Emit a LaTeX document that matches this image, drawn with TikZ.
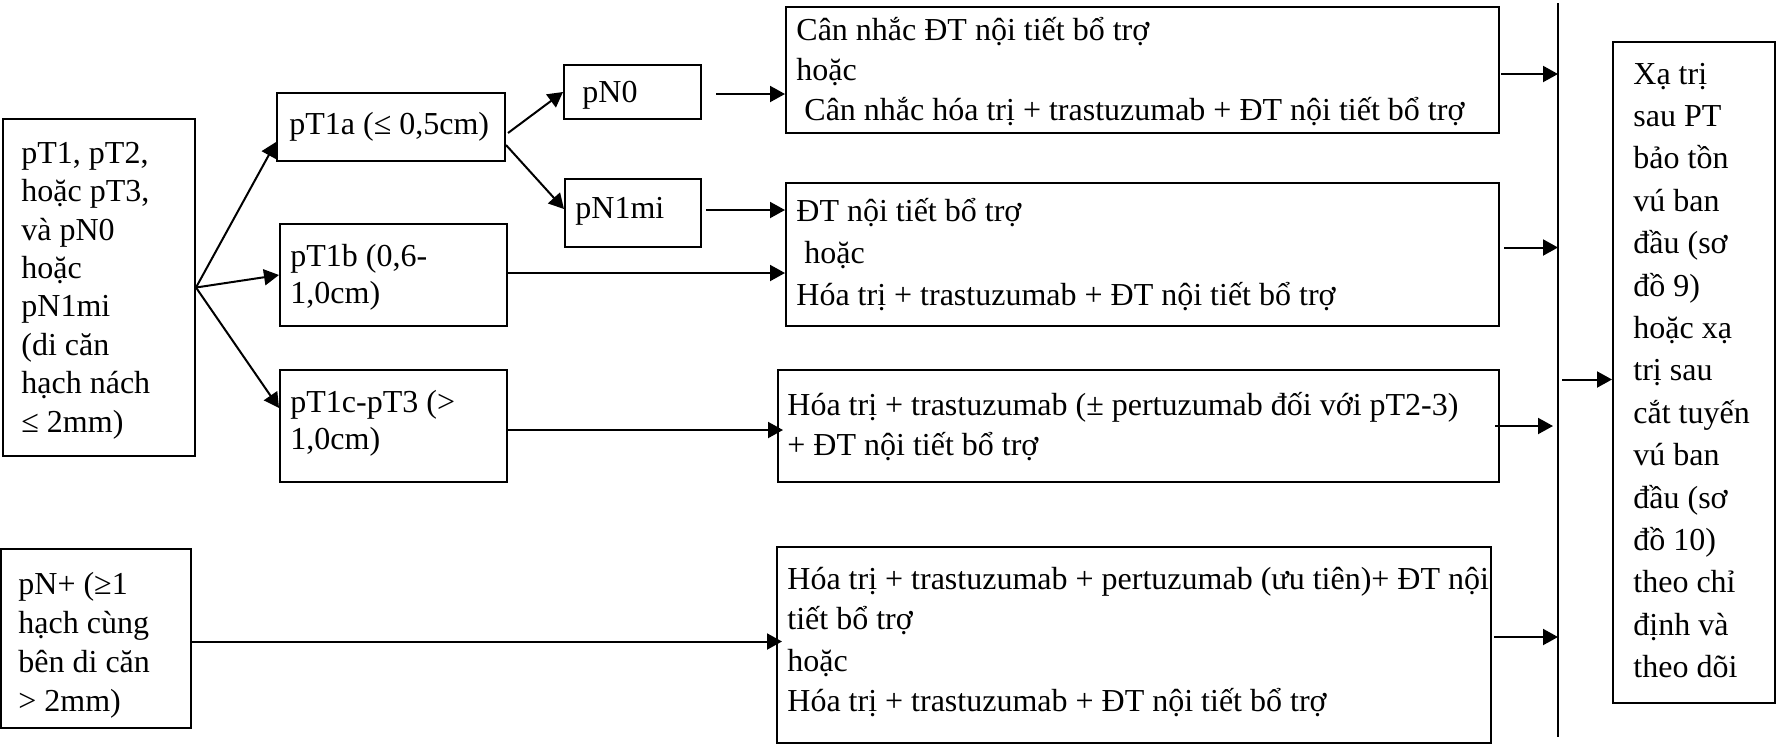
\documentclass[tikz,border=0pt]{standalone}
\usepackage{fontspec}
\setmainfont{Liberation Serif}
\usetikzlibrary{arrows.meta,calc,fit}

\begin{document}
\begin{tikzpicture}[x=0.5pt,y=-0.5pt,
  box/.style={draw, line width=1pt, inner sep=0pt},
  txt/.style={anchor=west, align=left, inner sep=0pt},
  ls/.style={font=\fontsize{16}{#1}\selectfont},
  conn/.style={line width=1pt, -{Triangle[length=7.5pt,width=8pt]}},
]
\useasboundingbox (0,0) rectangle (1776,745);

% boxes
\node[box, fit={(3,119) (195,456)}]   (A)    {};
\node[box, fit={(277,93) (505,161)}]  (pT1a) {};
\node[box, fit={(280,224) (507,326)}] (pT1b) {};
\node[box, fit={(280,370) (507,482)}] (pT1c) {};
\node[box, fit={(564,65) (701,119)}]  (pN0)  {};
\node[box, fit={(565,179) (701,247)}] (pN1mi){};
\node[box, fit={(786,7) (1499,133)}]  (B1)   {};
\node[box, fit={(786,183) (1499,326)}](B2)   {};
\node[box, fit={(778,370) (1499,482)}](B3)   {};
\node[box, fit={(777,547) (1491,743)}](B4)   {};
\node[box, fit={(1,549) (191,728)}]   (pNp)  {};
\node[box, fit={(1613,42) (1775,703)}](Xa)   {};

% texts
\node[txt, ls=19.2] (A-t) at ($(A.west)+(19,3)$)
  {pT1, pT2,\\ hoặc pT3,\\ và pN0\\ hoặc\\ pN1mi\\ (di căn\\ hạch nách\\ ≤ 2mm)};
\node[txt, ls=18.5] (pT1a-t) at ($(pT1a.west)+(13,0)$) {pT1a (≤ 0,5cm)};
\node[txt, ls=18.5] (pT1b-t) at ($(pT1b.west)+(11,2)$) {pT1b (0,6-\\ 1,0cm)};
\node[txt, ls=18.5] (pT1c-t) at ($(pT1c.west)+(11,-3)$) {pT1c-pT3 (>\\ 1,0cm)};
\node[txt, ls=18.5] (pN0-t) at ($(pN0.west)+(19,3)$) {pN0};
\node[txt, ls=18.5] (pN1mi-t) at ($(pN1mi.west)+(11,-2)$) {pN1mi};
\node[txt, ls=20] (B1-t) at ($(B1.west)+(11,2)$)
  {Cân nhắc ĐT nội tiết bổ trợ\\ hoặc\\ \hspace*{4pt}Cân nhắc hóa trị + trastuzumab + ĐT nội tiết bổ trợ};
\node[txt, ls=21] (B2-t) at ($(B2.west)+(11,0)$)
  {ĐT nội tiết bổ trợ\\ \hspace*{4pt}hoặc\\ Hóa trị + trastuzumab + ĐT nội tiết bổ trợ};
\node[txt, ls=20] (B3-t) at ($(B3.west)+(10,1)$)
  {Hóa trị + trastuzumab (± pertuzumab đối với pT2-3)\\ + ĐT nội tiết bổ trợ};
\node[txt, ls=20.5] (B4-t) at ($(B4.west)+(11,-3)$)
  {Hóa trị + trastuzumab + pertuzumab (ưu tiên)+ ĐT nội\\ tiết bổ trợ\\ hoặc\\ Hóa trị + trastuzumab + ĐT nội tiết bổ trợ};
\node[txt, ls=19.5] (pNp-t) at ($(pNp.west)+(18,7)$)
  {pN+ (≥1\\ hạch cùng\\ bên di căn\\ > 2mm)};
\node[txt, ls=21.2] (Xa-t) at ($(Xa.west)+(21,-2)$)
  {Xạ trị\\ sau PT\\ bảo tồn\\ vú ban\\ đầu (sơ\\ đồ 9)\\ hoặc xạ\\ trị sau\\ cắt tuyến\\ vú ban\\ đầu (sơ\\ đồ 10)\\ theo chỉ\\ định và\\ theo dõi};

% collecting bar
\coordinate (bartop) at (1558,3);
\coordinate (barbot) at (1558,737);
\draw[line width=1pt] (bartop) -- (barbot);

% connectors on the left
\draw[conn] (A.east) -- ($(pT1a.west)+(0,15)$);
\draw[conn] (A.east) -- (pT1b.west);
\draw[conn] (A.east) -- ($(pT1c.west)+(0,-18)$);
\draw[conn] ($(pT1a.east)+(2,6)$) -- (pN0.west);
\draw[conn] ($(pT1a.east)+(0,18)$) -- ($(pN1mi.west)+(0,-4)$);

\coordinate (n0out) at ($(pN0.east)+(14,2)$);
\coordinate (n1out) at ($(pN1mi.east)+(4,-3)$);
\coordinate (t1bout) at ($(pT1b.east)+(0,-2)$);
\coordinate (t1cout) at ($(pT1c.east)+(0,4)$);
\coordinate (npout) at ($(pNp.east)+(0,3)$);
\draw[conn] (n0out) -- (n0out -| B1.west);
\draw[conn] (n1out) -- (n1out -| B2.west);
\draw[conn] (t1bout) -- (t1bout -| B2.west);
\draw[conn] (t1cout) -- ($(t1cout -| B3.west)+(6,0)$);
\draw[conn] (npout) -- ($(npout -| B4.west)+(6,0)$);

% connectors to the bar
\coordinate (b1out) at ($(B1.east)+(1,4)$);
\coordinate (b2out) at ($(B2.east)+(4,-7)$);
\coordinate (b3out) at ($(B3.east)+(-5,0)$);
\coordinate (b4out) at ($(B4.east)+(2,-8)$);
\draw[conn] (b1out) -- (b1out -| bartop);
\draw[conn] (b2out) -- (b2out -| bartop);
\draw[conn] (b3out) -- ($(b3out -| bartop)+(-5,0)$);
\draw[conn] (b4out) -- (b4out -| bartop);

\coordinate (barout) at ($(bartop |- Xa.west)+(4,7)$);
\draw[conn] (barout) -- (barout -| Xa.west);
\end{tikzpicture}
\end{document}
